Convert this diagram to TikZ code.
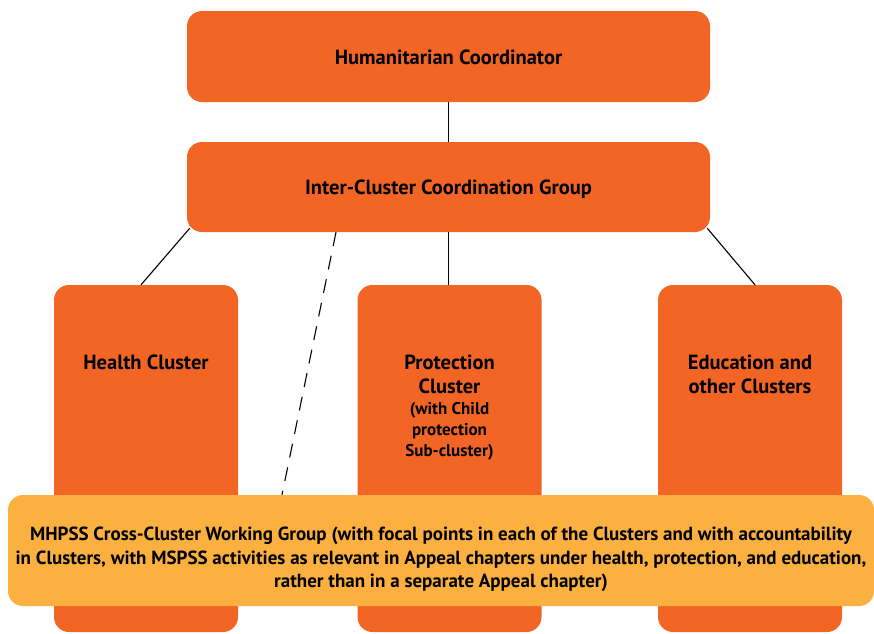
\documentclass[tikz,border=0pt]{standalone}
\usepackage{fontspec}
\setmainfont{PT Sans}
\usepackage{tikz}
\usetikzlibrary{positioning, calc}
\definecolor{hcorange}{RGB}{242,101,36}
\definecolor{wgyellow}{RGB}{251,176,64}
\tikzset{box/.style={fill=hcorange, draw=none, rounded corners=15pt, inner sep=0pt},
  colbox/.style={box, minimum width=184pt, minimum height=347pt},
  boxtext/.style={font=\bfseries\fontsize{20.5}{24}\selectfont, align=center, inner sep=0pt},
  subtext/.style={font=\bfseries\fontsize{17}{21}\selectfont, align=center, inner sep=0pt},
  link/.style={draw=black, line width=1.1pt}}

\begin{document}
\begin{tikzpicture}[x=1pt, y=-1pt]
\useasboundingbox (0,0) rectangle (874,633);
\node[box, minimum width=523pt, minimum height=91pt] (hc) at (448.5,56.5) {};
\node[boxtext] at ([yshift=-0.5pt]hc) {Humanitarian Coordinator};
\node[box, minimum width=523pt, minimum height=90pt] (iccg) at (448.5,187) {};
\node[boxtext] at ([yshift=-2pt]iccg) {Inter-Cluster Coordination Group};
\node[colbox] (health) at (146,458.5) {};
\node[colbox] (prot) at (449.5,458.5) {};
\node[colbox] (edu) at (750,458.5) {};
\node[boxtext, anchor=north] (healthtxt) at ([yshift=-70pt]health.north) {Health Cluster};
\node[boxtext, anchor=north] (prottxt) at ([yshift=-70pt]prot.north) {Protection\\Cluster};
\node[subtext, anchor=north, below=8pt of prottxt] {(with Child\\protection\\Sub-cluster)};
\node[boxtext, anchor=north] (edutxt) at ([yshift=-70pt]edu.north) {Education and\\other Clusters};
% links
\draw[link] (hc.south) -- (iccg.north);
\draw[link] ([xshift=3pt,yshift=4pt]iccg.south west) -- ([xshift=-5pt]health.north);
\draw[link] (iccg.south) -- ([xshift=-1pt]prot.north);
\draw[link] ([xshift=-3pt,yshift=4pt]iccg.south east) -- ([xshift=5pt]edu.north);
\node[box, fill=wgyellow, minimum width=866pt, minimum height=111pt] (mh) at (441,550.5) {};
\node[boxtext, font=\bfseries\fontsize{19}{23.5}\selectfont] at ([yshift=-9pt]mh) {MHPSS Cross-Cluster Working Group (with focal points in each of the Clusters and with accountability\\in Clusters, with MSPSS activities as relevant in Appeal chapters under health, protection, and education,\\rather than in a separate Appeal chapter)};
\draw[link, dash pattern=on 14pt off 10pt] ([xshift=-112.5pt]iccg.south) -- ([xshift=-159pt]mh.north);
\end{tikzpicture}
\end{document}
